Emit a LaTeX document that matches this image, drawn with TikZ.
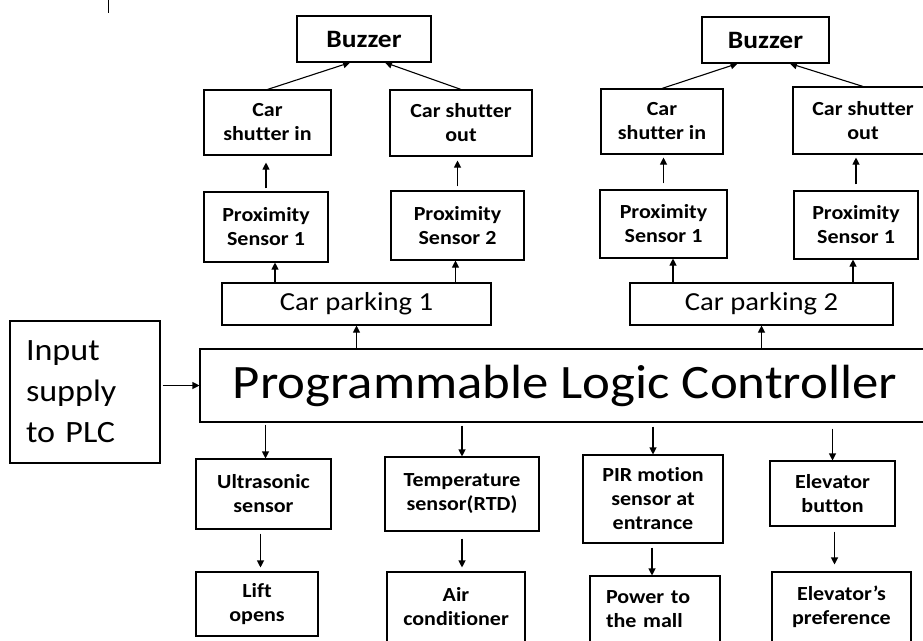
\documentclass[tikz,border=0pt]{standalone}
\usepackage{fontspec}
\setmainfont{Carlito}[FakeStretch=1.1, Ligatures=NoCommon]
\usetikzlibrary{arrows.meta,calc}

\begin{document}
\begin{tikzpicture}[
  x=1pt, y=-1pt,
  box/.style={
    draw,
    line width=1.1pt,
    align=center,
    inner sep=2pt,
    font=\bfseries\fontsize{20}{24}\selectfont
  },
  buzz/.style={box, font=\bfseries\fontsize{25}{30}\selectfont},
  park/.style={box, font=\fontsize{26}{32}\selectfont},
  line/.style={-{Triangle[length=7pt,width=7pt]}, line width=1.1pt}
]
\useasboundingbox (0,0) rectangle (923,640);
\clip (0,0) rectangle (923,640);

\draw[line width=0.8pt] (108,0) -- (108,13);

% Controller and its supply
\node[draw, line width=1.1pt, minimum width=730, minimum height=73,
      font=\fontsize{48}{60}\selectfont] (plc) at (565,385.5) {Programmable Logic Controller};
\node[draw, line width=1.1pt, text width=118, inner xsep=16pt, minimum height=142,
      align=left, font=\fontsize{31}{41}\selectfont] (input) at (85,392) {Input\\supply\\to PLC};
\draw[line, shorten <=2pt] (input.east |- plc.west) -- (plc.west);

% Car parking 1
\node[park, minimum width=269, minimum height=42] (parkA) at (356.5,304) {Car parking 1};
\node[box, minimum width=124, minimum height=70] (proxA1) at (266,227) {Proximity\\Sensor 1};
\node[box, minimum width=133, minimum height=69] (proxA2) at (457.5,225.5) {Proximity\\Sensor 2};
\node[box, minimum width=127, minimum height=65] (shinA) at (267.5,122.5) {Car\\shutter in};
\node[box, minimum width=142, minimum height=66] (shoutA) at (461,123) {Car shutter\\out};
\node[buzz, minimum width=134, minimum height=46] (buzA) at (364,39) {Buzzer};

\draw[line] (parkA.south |- plc.north) -- (parkA.south);
\draw[line] ([xshift=9pt]proxA1.south |- parkA.north) -- ([xshift=9pt]proxA1.south);
\draw[line] ([xshift=-2pt]proxA2.south |- parkA.north) -- ([xshift=-2pt]proxA2.south);
\draw[line, shorten <=3pt, shorten >=7pt] (proxA1.north) -- (proxA1.north |- shinA.south);
\draw[line, shorten <=4pt, shorten >=4pt] (proxA2.north) -- (proxA2.north |- shoutA.south);
\draw[line] (shinA.north) -- ([xshift=-14pt]buzA.south);
\draw[line] (shoutA.north) -- ([xshift=21pt]buzA.south);

% Car parking 2
\node[park, minimum width=263, minimum height=42] (parkB) at (761.5,304) {Car parking 2};
\node[box, minimum width=127, minimum height=68] (proxB1) at (663.5,224) {Proximity\\Sensor 1};
\node[box, minimum width=124, minimum height=68] (proxB2) at (856,225) {Proximity\\Sensor 1};
\node[box, minimum width=122, minimum height=65] (shinB) at (662,121.5) {Car\\shutter in};
\node[box, minimum width=140, minimum height=67] (shoutB) at (863,120.5) {Car shutter\\out};
\node[buzz, minimum width=127, minimum height=46] (buzB) at (765.5,40) {Buzzer};

\draw[line] (parkB.south |- plc.north) -- (parkB.south);
\draw[line] ([xshift=9.5pt]proxB1.south |- parkB.north) -- ([xshift=9.5pt]proxB1.south);
\draw[line] ([xshift=-3pt]proxB2.south |- parkB.north) -- ([xshift=-3pt]proxB2.south);
\draw[line, shorten <=6pt, shorten >=3pt] (proxB1.north) -- (proxB1.north |- shinB.south);
\draw[line, shorten <=6pt, shorten >=3pt] (proxB2.north) -- (proxB2.north |- shoutB.south);
\draw[line] (shinB.north) -- ([xshift=-28pt]buzB.south);
\draw[line] (shoutB.north) -- ([xshift=24.5pt]buzB.south);

% Outputs below the controller
\node[box, minimum width=135, minimum height=70] (ultra) at (263.5,494) {Ultrasonic\\sensor};
\node[box, minimum width=122, minimum height=64] (lift) at (257,604) {Lift\\opens};
\node[box, minimum width=154, minimum height=74] (temp) at (462,494) {Temperature\\sensor(RTD)};
\node[box, minimum width=138, minimum height=70] (air) at (456,607) {Air\\conditioner};
\node[box, minimum width=140, minimum height=88] (pir) at (653,499) {PIR motion\\sensor at\\entrance};
\node[box, text width=98, inner xsep=16pt, minimum height=66, align=left] (power) at (655,609) {Power to\\the mall};
\node[box, minimum width=125, minimum height=65] (elevb) at (832.5,493.5) {Elevator\\button};
\node[box, minimum width=139, minimum height=70] (pref) at (841.5,607) {Elevator’s\\preference};

\draw[line, shorten <=2pt] ([xshift=2pt]ultra.north |- plc.south) -- ([xshift=2pt]ultra.north);
\draw[line, shorten <=3pt] (temp.north |- plc.south) -- (temp.north);
\draw[line, shorten <=4pt] (pir.north |- plc.south) -- (pir.north);
\draw[line, shorten <=6pt] (elevb.north |- plc.south) -- (elevb.north);

\draw[line, shorten <=4pt, shorten >=4pt] ([xshift=-3pt]ultra.south) -- ([xshift=-3pt]ultra.south |- lift.north);
\draw[line, shorten <=7pt, shorten >=4pt] (temp.south) -- (temp.south |- air.north);
\draw[line, shorten <=4pt] ([xshift=-1pt]pir.south) -- ([xshift=-1pt]pir.south |- power.north);
\draw[line, shorten <=5pt, shorten >=7pt] ([xshift=2pt]elevb.south) -- ([xshift=2pt]elevb.south |- pref.north);

\end{tikzpicture}
\end{document}
